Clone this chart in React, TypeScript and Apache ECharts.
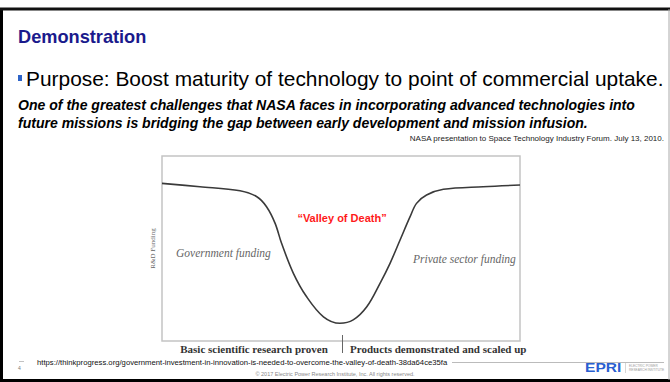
import React, { useEffect, useRef } from "react";
import * as echarts from "echarts";

const curveX = [0, 10.6, 21.8, 26.5, 29.2, 31.6, 33.4, 36.7, 40.4, 45.1, 49.7, 53.4, 57.2, 60.9, 63.7, 66.5, 69.3, 71.1, 73.9, 78.6, 89.7, 100];
const curveY = [85.2, 83.4, 81.2, 78.0, 72.6, 63.6, 52.8, 36.6, 23.9, 13.1, 9.6, 11.4, 18.5, 31.2, 42.0, 54.6, 67.2, 74.4, 78.9, 82.0, 83.4, 84.3];
const stageLabels = ["Basic scientific research proven", "Products demonstrated and scaled up"];
const fundingLabels = ["Government funding", "Private sector funding"];
const valleyLabel = "\u201cValley of Death\u201d";
const yAxisName = "R&D Funding";

const G = { left: 162, top: 156, width: 358, height: 185 };

export default function App() {
  const ref = useRef<HTMLDivElement>(null);
  useEffect(() => {
    document.body.style.margin = "0";
    const chart = echarts.init(ref.current!, null, { renderer: "svg" });
    const sans = "Liberation Sans, Arial, sans-serif";
    const serif = "Liberation Serif, Times New Roman, serif";
    chart.setOption({
      animation: false,
      backgroundColor: "#ffffff",
      grid: { ...G, show: true, borderColor: "#c4c4c4", borderWidth: 1.5 },
      xAxis: { type: "value", min: 0, max: 100, show: false },
      yAxis: {
        type: "value", min: 0, max: 100, show: true,
        name: yAxisName, nameLocation: "middle", nameGap: 6, nameRotate: 90,
        nameTextStyle: { fontFamily: serif, fontSize: 7, color: "#666" },
        axisLine: { show: false }, axisTick: { show: false }, axisLabel: { show: false }, splitLine: { show: false },
      },
      series: [{
        type: "line", data: curveX.map((x, i) => [x, curveY[i]]), smooth: 0.35, symbol: "none",
        lineStyle: { color: "#3a3a3a", width: 1.6 },
      }],
      graphic: [
        // slide frame
        { type: "line", shape: { x1: 1.5, y1: 8, x2: 1.5, y2: 382 }, style: { stroke: "#000", lineWidth: 3 } },
        { type: "line", shape: { x1: 0, y1: 9, x2: 670, y2: 9 }, style: { stroke: "#111", lineWidth: 3 } },
        { type: "line", shape: { x1: 0, y1: 380.5, x2: 670, y2: 380.5 }, style: { stroke: "#000", lineWidth: 3 } },
        { type: "line", shape: { x1: 669, y1: 9, x2: 669, y2: 380 }, style: { stroke: "#aaa", lineWidth: 1 } },
        // header
        { type: "text", x: 18, y: 37, style: { text: "Demonstration", font: `bold 18.2px ${sans}`, fill: "#1a1a8c", textVerticalAlign: "middle" } },
        { type: "rect", shape: { x: 18, y: 75, width: 4, height: 6 }, style: { fill: "#2e64c8" } },
        { type: "text", x: 26, y: 78, style: { text: "Purpose: Boost maturity of technology to point of commercial uptake.", font: `20.9px ${sans}`, fill: "#000", textVerticalAlign: "middle" } },
        { type: "text", x: 18, y: 105, style: { text: "One of the greatest challenges that NASA faces in incorporating advanced technologies into", font: `italic bold 14.05px ${sans}`, fill: "#000", textVerticalAlign: "middle" } },
        { type: "text", x: 18, y: 123, style: { text: "future missions is bridging the gap between early development and mission infusion.", font: `italic bold 14.05px ${sans}`, fill: "#000", textVerticalAlign: "middle" } },
        { type: "text", x: 664, y: 138.5, style: { text: "NASA presentation to Space Technology Industry Forum. July 13, 2010.", font: `8px ${sans}`, fill: "#222", textAlign: "right", textVerticalAlign: "middle" } },
        // chart annotations
        { type: "text", x: 342, y: 218, style: { text: valleyLabel, font: `bold 11px ${sans}`, fill: "#ff1a1a", textAlign: "center", textVerticalAlign: "middle" } },
        { type: "text", x: 176, y: 253, style: { text: fundingLabels[0], font: `italic 11.5px ${serif}`, fill: "#666", textVerticalAlign: "middle" } },
        { type: "text", x: 413, y: 259, style: { text: fundingLabels[1], font: `italic 11.5px ${serif}`, fill: "#666", textVerticalAlign: "middle" } },
        { type: "line", shape: { x1: 342.5, y1: 335, x2: 342.5, y2: 353 }, style: { stroke: "#666", lineWidth: 1 } },
        { type: "text", x: 254, y: 349, style: { text: stageLabels[0], font: `bold 11px ${serif}`, fill: "#333", textAlign: "center", textVerticalAlign: "middle" } },
        { type: "text", x: 350, y: 349, style: { text: stageLabels[1], font: `bold 11px ${serif}`, fill: "#333", textVerticalAlign: "middle" } },
        // footer
        { type: "line", shape: { x1: 19, y1: 361.5, x2: 24, y2: 361.5 }, style: { stroke: "#999", lineWidth: 0.6 } },
        { type: "text", x: 18, y: 368, style: { text: "4", font: `5px ${sans}`, fill: "#777", textVerticalAlign: "middle" } },
        { type: "text", x: 37, y: 362.5, style: { text: "https://thinkprogress.org/government-investment-in-innovation-is-needed-to-overcome-the-valley-of-death-38da64ce35fa", font: `7.7px ${sans}`, fill: "#111", textVerticalAlign: "middle" } },
        { type: "line", shape: { x1: 452, y1: 362.5, x2: 664, y2: 362.5 }, style: { stroke: "#aaa", lineWidth: 0.8 } },
        { type: "text", x: 335, y: 374, style: { text: "\u00a9 2017 Electric Power Research Institute, Inc. All rights reserved.", font: `5.5px ${sans}`, fill: "#888", textAlign: "center", textVerticalAlign: "middle" } },
        { type: "text", x: 585, y: 368, scaleX: 1.3, style: { text: "EPRI", font: `bold 12px ${sans}`, fill: "#2a5fd0", textVerticalAlign: "middle" } },
        { type: "line", shape: { x1: 625.5, y1: 363, x2: 625.5, y2: 373 }, style: { stroke: "#bbb", lineWidth: 0.6 } },
        { type: "text", x: 629, y: 366, style: { text: "ELECTRIC POWER", font: `3.2px ${sans}`, fill: "#999", textVerticalAlign: "middle" } },
        { type: "text", x: 629, y: 370, style: { text: "RESEARCH INSTITUTE", font: `3.2px ${sans}`, fill: "#999", textVerticalAlign: "middle" } },
      ],
    });
    return () => chart.dispose();
  }, []);
  return <div ref={ref} style={{ position: "fixed", left: 0, top: 0, width: 670, height: 382 }} />;
}
